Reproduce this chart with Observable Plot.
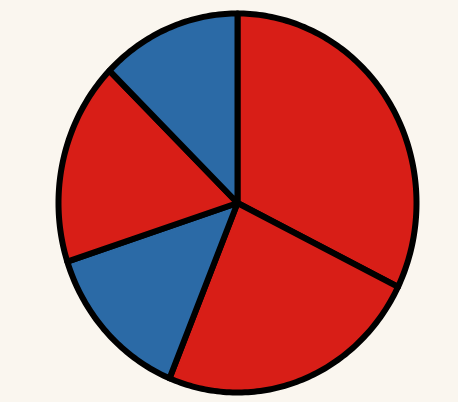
<!DOCTYPE html>
<html>
<head>
<meta charset="utf-8">
<script src="https://cdn.jsdelivr.net/npm/d3@7"></script>
<script src="https://cdn.jsdelivr.net/npm/@observablehq/plot@0.6"></script>
<style>
  html, body { margin: 0; padding: 0; background: #faf6ef; }
  #chart { width: 458px; height: 402px; }
</style>
</head>
<body>
<div id="chart"></div>
<script>
// Slice data (clockwise from 12 o'clock), percent shares
const categories = ["A", "B", "C", "D", "E"];
const values = [32.3, 23.9, 13.8, 17.3, 12.7];
const colors = ["#d81e17", "#d81e17", "#2b6aa6", "#d81e17", "#2b6aa6"];

const total = d3.sum(values);
const pts = [];
let acc = 0;
categories.forEach((cat, i) => {
  const a0 = acc / total * 2 * Math.PI;
  acc += values[i];
  const a1 = acc / total * 2 * Math.PI;
  const n = Math.max(2, Math.ceil((a1 - a0) / (Math.PI / 180)));
  pts.push({cat, color: colors[i], x: 0, y: 0});
  for (let k = 0; k <= n; k++) {
    const a = a0 + (a1 - a0) * k / n;
    pts.push({cat, color: colors[i], x: Math.sin(a), y: Math.cos(a)});
  }
  pts.push({cat, color: colors[i], x: 0, y: 0});
});

const chart = Plot.plot({
  width: 458,
  height: 402,
  margin: 0,
  style: {background: "#faf6ef"},
  x: {domain: [-1, 1], range: [58, 416], axis: null},
  y: {domain: [-1, 1], range: [392, 13], axis: null},
  color: {type: "identity"},
  marks: [
    Plot.line(pts, {
      x: "x", y: "y", z: "cat",
      fill: "color",
      stroke: "#000",
      strokeWidth: 6,
      strokeLinejoin: "round",
      strokeLinecap: "round"
    })
  ]
});
document.getElementById("chart").appendChild(chart);
</script>
</body>
</html>
